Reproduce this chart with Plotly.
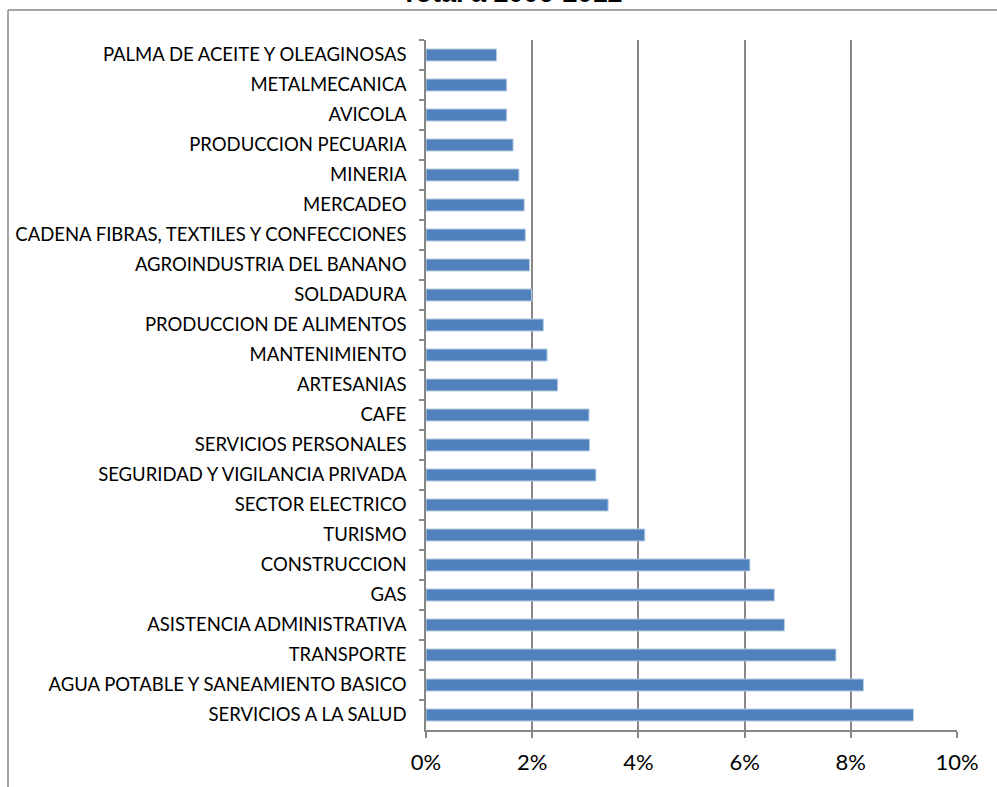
import plotly.graph_objects as go

# sectors listed top to bottom as they appear in the chart
sectores = [
    "PALMA DE ACEITE Y OLEAGINOSAS",
    "METALMECANICA",
    "AVICOLA",
    "PRODUCCION PECUARIA",
    "MINERIA",
    "MERCADEO",
    "CADENA FIBRAS, TEXTILES Y CONFECCIONES",
    "AGROINDUSTRIA DEL BANANO",
    "SOLDADURA",
    "PRODUCCION DE ALIMENTOS",
    "MANTENIMIENTO",
    "ARTESANIAS",
    "CAFE",
    "SERVICIOS PERSONALES",
    "SEGURIDAD Y VIGILANCIA PRIVADA",
    "SECTOR ELECTRICO",
    "TURISMO",
    "CONSTRUCCION",
    "GAS",
    "ASISTENCIA ADMINISTRATIVA",
    "TRANSPORTE",
    "AGUA POTABLE Y SANEAMIENTO BASICO",
    "SERVICIOS A LA SALUD",
]

# share of total, in percent
porcentaje = [
    1.33, 1.52, 1.52, 1.64, 1.75, 1.85, 1.87, 1.95, 1.99, 2.21, 2.28, 2.48,
    3.07, 3.08, 3.20, 3.43, 4.12, 6.10, 6.56, 6.75, 7.72, 8.24, 9.18,
]

titulo = "Total a 2006-2012"

grey = "#878787"

FW, FH = 997, 787

# plot area in page pixels: left 426, width 531, top 40, height 690
L, W, T, H = 426, 531, 40, 690


def px_x(p):
    return (p - L) / W


def px_y(p):
    return (T + H - p) / H


fig = go.Figure()

fig.add_trace(
    go.Bar(
        x=porcentaje,
        y=sectores,
        orientation="h",
        marker=dict(color="#4F81BD", line=dict(color="#B9CDE5", width=1)),
        width=0.4,
        hoverinfo="x+y",
    )
)

# outer chart frame (only top and left edges visible in the crop)
fig.add_shape(type="line", xref="paper", yref="paper",
              x0=px_x(8), x1=px_x(1010), y0=px_y(10), y1=px_y(10),
              line=dict(color=grey, width=1.5))
fig.add_shape(type="line", xref="paper", yref="paper",
              x0=px_x(8), x1=px_x(8), y0=px_y(10), y1=px_y(800),
              line=dict(color=grey, width=1.5))

# title sits mostly above the visible crop
fig.add_annotation(
    text="<b>" + titulo + "</b>",
    xref="paper", yref="paper",
    x=px_x(512), y=px_y(-7),
    xanchor="center", yanchor="middle",
    showarrow=False,
    font=dict(family="Liberation Sans, Arial", size=27, color="black"),
)

fig.update_xaxes(
    range=[0, 10],
    dtick=2,
    ticksuffix="%",
    showgrid=True,
    gridcolor=grey,
    gridwidth=1.5,
    showline=True,
    linecolor=grey,
    linewidth=1.5,
    ticks="outside",
    ticklen=6,
    tickcolor=grey,
    tickwidth=1.5,
    ticklabelstandoff=6,
    zeroline=False,
    automargin=False,
    tickfont=dict(family="Lato", size=22, color="black"),
    fixedrange=True,
)

fig.update_yaxes(
    type="category",
    categoryorder="array",
    categoryarray=sectores,
    autorange="reversed",
    showline=True,
    linecolor=grey,
    linewidth=1.5,
    ticks="outside",
    tickson="boundaries",
    ticklen=5,
    tickcolor=grey,
    tickwidth=1.5,
    showgrid=False,
    ticklabelstandoff=14,
    automargin=False,
    tickfont=dict(family="Lato", size=18.5, color="black"),
    fixedrange=True,
)

fig.update_layout(
    width=FW,
    height=FH,
    margin=dict(l=L, r=FW - L - W, t=T, b=FH - T - H, pad=0),
    plot_bgcolor="white",
    paper_bgcolor="white",
    showlegend=False,
    bargap=0.6,
)

# drop the default body margin so the figure fills the window
fig.write_html(
    "out.html",
    config={"displayModeBar": False},
    post_script="document.body.style.margin='0';",
)
